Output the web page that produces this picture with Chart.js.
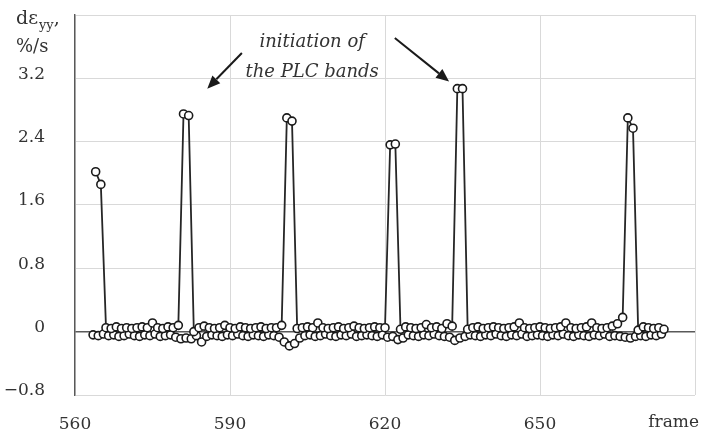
<!DOCTYPE html>
<html>
<head>
<meta charset="utf-8">
<title>Strain rate</title>
<script src="https://cdn.jsdelivr.net/npm/chart.js@4.4.1/dist/chart.umd.min.js"></script>
<style>
  html, body { margin: 0; padding: 0; background: #fff; }
  #wrap { width: 702px; height: 434px; position: relative; }
</style>
</head>
<body>
<div id="wrap"><canvas id="chartRate"></canvas></div>
<script>
// datos: velocidad de deformacion (%/s) por frame
const UPPER_FIRST_FRAME = 564;
const LOWER_FIRST_FRAME = 563.5;

// serie superior (incluye los picos PLC), frames 564..674
const upperRate = [
  2.02, 1.86,
  0.05, 0.04, 0.06, 0.04, 0.05, 0.04, 0.05, 0.06, 0.05, 0.11, 0.05, 0.04, 0.06, 0.05, 0.08,
  2.75, 2.73,
  0.00, 0.05, 0.07, 0.05, 0.04, 0.05, 0.08, 0.05, 0.04, 0.06, 0.05, 0.04, 0.05, 0.06, 0.04, 0.05, 0.05, 0.08,
  2.70, 2.66,
  0.04, 0.05, 0.06, 0.05, 0.11, 0.05, 0.04, 0.05, 0.06, 0.04, 0.05, 0.07, 0.05, 0.04, 0.05, 0.06, 0.05, 0.05,
  2.36, 2.37,
  0.03, 0.06, 0.05, 0.04, 0.05, 0.09, 0.05, 0.06, 0.04, 0.10, 0.07,
  3.07, 3.07,
  0.03, 0.05, 0.06, 0.04, 0.05, 0.06, 0.05, 0.04, 0.05, 0.06, 0.11, 0.05, 0.04, 0.05, 0.06,
  0.05, 0.04, 0.05, 0.06, 0.11, 0.05, 0.04, 0.05, 0.06, 0.11, 0.05, 0.04, 0.05, 0.07,
  0.10, 0.18, 2.70, 2.57,
  0.02, 0.06, 0.05, 0.04, 0.05, 0.03
];

// serie inferior (fila de puntos bajo el cero), frames 563.5..673.5
const lowerRate = [
  -0.04, -0.05, -0.03,
  -0.05, -0.04, -0.06, -0.05, -0.03, -0.05, -0.06, -0.04, -0.05, -0.03, -0.06, -0.05, -0.04,
  -0.07, -0.09, -0.08, -0.09, -0.05, -0.13, -0.06,
  -0.04, -0.05, -0.06, -0.04, -0.05, -0.03, -0.05, -0.06, -0.04, -0.05, -0.06, -0.04, -0.05, -0.07,
  -0.13, -0.18, -0.15, -0.08,
  -0.05, -0.04, -0.06, -0.05, -0.03, -0.05, -0.06, -0.04, -0.05, -0.03, -0.06, -0.05, -0.04, -0.05, -0.06, -0.04, -0.07,
  -0.06, -0.10, -0.08,
  -0.04, -0.05, -0.06, -0.04, -0.05, -0.03, -0.05, -0.06, -0.07,
  -0.11, -0.08, -0.06,
  -0.04, -0.05, -0.06, -0.04, -0.05, -0.03, -0.05, -0.06, -0.04, -0.05, -0.03, -0.06, -0.05, -0.04,
  -0.05, -0.06, -0.04, -0.05, -0.03, -0.05, -0.06, -0.04, -0.05, -0.06, -0.04, -0.05, -0.03, -0.06,
  -0.05, -0.06, -0.07, -0.08, -0.06, -0.05, -0.06, -0.04, -0.05, -0.03
];

// el ultimo tick (680) lleva el nombre del eje, alineado a la derecha
const xTickValues = [560, 590, 620, 650, 680];
const xTickLabels = ['560', '590', '620', '650', ''];
const xAxisName = 'frame';
const yTickValues = [-0.8, 0, 0.8, 1.6, 2.4, 3.2, 4.0];
const yTickLabels = ['\u22120.8', '0', '0.8', '1.6', '2.4', '3.2', ''];

const annotationLines = ['initiation of', 'the PLC bands'];

(function() {
  'use strict';

  const FONT = '"DejaVu Serif", "Liberation Serif", serif';
  const INK = '#262626';

  function toPoints(first, values) {
    return values.map((v, i) => ({ x: first + i, y: v }));
  }

  function labelFor(values, labels, v) {
    const i = values.findIndex(t => Math.abs(t - v) < 1e-6);
    return i >= 0 ? labels[i] : '';
  }

  // flecha en unidades de datos
  function drawArrow(ctx, sx, sy, x1, y1, x2, y2) {
    const ax = sx.getPixelForValue(x1), ay = sy.getPixelForValue(y1);
    const bx = sx.getPixelForValue(x2), by = sy.getPixelForValue(y2);
    const ang = Math.atan2(by - ay, bx - ax);
    const head = 13, half = 5.5;
    const baseX = bx - head * Math.cos(ang), baseY = by - head * Math.sin(ang);
    ctx.save();
    ctx.strokeStyle = '#1a1a1a';
    ctx.fillStyle = '#1a1a1a';
    ctx.lineWidth = 2;
    ctx.beginPath();
    ctx.moveTo(ax, ay);
    ctx.lineTo(baseX, baseY);
    ctx.stroke();
    ctx.beginPath();
    ctx.moveTo(bx, by);
    ctx.lineTo(baseX + half * Math.sin(ang), baseY - half * Math.cos(ang));
    ctx.lineTo(baseX - half * Math.sin(ang), baseY + half * Math.cos(ang));
    ctx.closePath();
    ctx.fill();
    ctx.restore();
  }

  const decorations = {
    id: 'decorations',
    afterDraw(chart) {
      const ctx = chart.ctx;
      const sx = chart.scales.x, sy = chart.scales.y;
      const area = chart.chartArea;
      const left = area.left;

      // titulo del eje y: d eps_yy, %/s
      ctx.save();
      ctx.fillStyle = '#333';
      ctx.textBaseline = 'alphabetic';
      ctx.textAlign = 'left';
      let x = left - 59;
      ctx.font = '19px ' + FONT;
      ctx.fillText('d\u03b5', x, 24);
      x += ctx.measureText('d\u03b5').width + 1;
      ctx.font = '13px ' + FONT;
      ctx.fillText('yy', x, 29);
      x += ctx.measureText('yy').width;
      ctx.font = '19px ' + FONT;
      ctx.fillText(',', x, 24);
      ctx.font = '18px ' + FONT;
      ctx.fillText('%/s', left - 59, 52);

      // nombre del eje x en lugar de 680
      ctx.font = '17px ' + FONT;
      ctx.textAlign = 'right';
      ctx.textBaseline = 'top';
      ctx.fillText(xAxisName, chart.width - 3, area.bottom + 19);

      // anotacion
      ctx.font = 'italic 18px ' + FONT;
      ctx.textAlign = 'center';
      ctx.textBaseline = 'middle';
      const cx = sx.getPixelForValue(605.9);
      ctx.fillText(annotationLines[0], cx, sy.getPixelForValue(3.66));
      ctx.fillText(annotationLines[1], cx, sy.getPixelForValue(3.27));
      ctx.restore();

      drawArrow(ctx, sx, sy, 592.3, 3.52, 585.6, 3.07);
      drawArrow(ctx, sx, sy, 621.9, 3.71, 632.4, 3.16);
    }
  };

  function makeSeries(label, data) {
    return {
      label: label,
      data: data,
      borderColor: INK,
      borderWidth: 1.8,
      pointRadius: 4,
      pointBackgroundColor: '#fff',
      pointBorderColor: '#1a1a1a',
      pointBorderWidth: 1.6,
      tension: 0
    };
  }

  function init() {
    const canvas = document.getElementById('chartRate');
    new Chart(canvas.getContext('2d'), {
      type: 'line',
      data: {
        datasets: [
          makeSeries('upper', toPoints(UPPER_FIRST_FRAME, upperRate)),
          makeSeries('lower', toPoints(LOWER_FIRST_FRAME, lowerRate))
        ]
      },
      options: {
        responsive: true,
        maintainAspectRatio: false,
        animation: false,
        devicePixelRatio: 1,
        layout: { padding: { top: 15, right: 7, left: 0, bottom: 0 } },
        plugins: {
          legend: { display: false },
          tooltip: { enabled: false }
        },
        scales: {
          x: {
            type: 'linear',
            min: 560,
            max: 680,
            afterBuildTicks: s => { s.ticks = xTickValues.map(v => ({ value: v })); },
            afterFit: s => { s.height = 39; s.paddingLeft = 0; s.paddingRight = 0; },
            ticks: {
              callback: v => labelFor(xTickValues, xTickLabels, v),
              color: '#333',
              font: { family: FONT, size: 17 },
              padding: 19,
              maxRotation: 0,
              autoSkip: false
            },
            grid: { color: '#d9d9d9', lineWidth: 1, drawTicks: false },
            border: { display: false }
          },
          y: {
            min: -0.8,
            max: 4.0,
            afterBuildTicks: s => { s.ticks = yTickValues.map(v => ({ value: v })); },
            afterFit: s => { s.width = 75; s.paddingTop = 0; s.paddingBottom = 0; },
            ticks: {
              callback: v => labelFor(yTickValues, yTickLabels, v),
              color: '#333',
              font: { family: FONT, size: 17 },
              padding: 30,
              labelOffset: -4,
              autoSkip: false
            },
            grid: {
              color: c => (c.tick && c.tick.value === 0 ? '#595959' : '#d9d9d9'),
              lineWidth: c => (c.tick && c.tick.value === 0 ? 1.4 : 1),
              drawTicks: false
            },
            border: { color: '#595959', width: 1.4 }
          }
        }
      },
      plugins: [decorations]
    });
  }

  if (document.readyState === 'loading') {
    document.addEventListener('DOMContentLoaded', init);
  } else {
    init();
  }
})();
</script>
</body>
</html>
